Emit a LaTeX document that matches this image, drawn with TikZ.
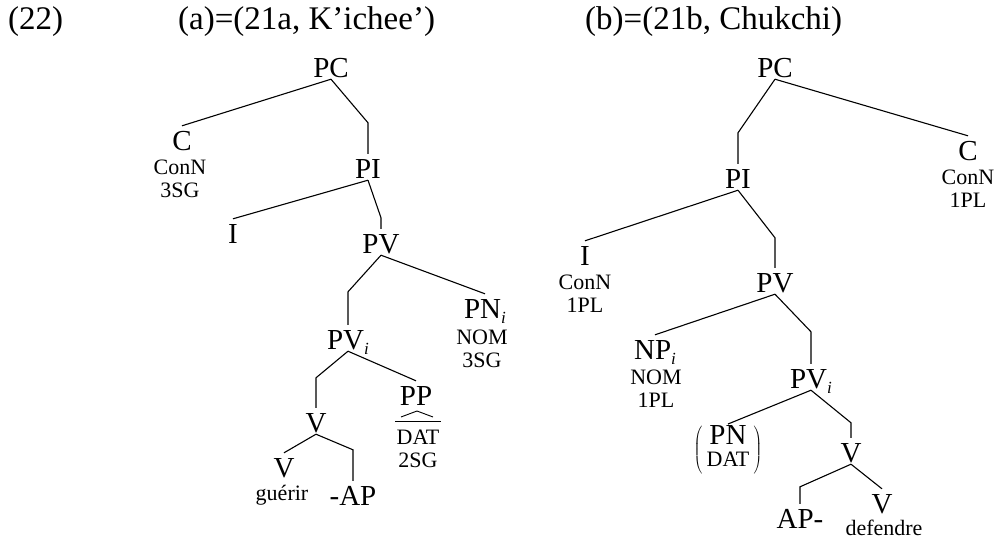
\documentclass[tikz,border=0pt]{standalone}
\usepackage{fontspec}
\setmainfont{Liberation Serif}
\usetikzlibrary{positioning}

\newcommand\catsize{\fontsize{29}{29}\selectfont}
\newcommand\featsize{\fontsize{22}{23}\selectfont}
\newcommand\headsize{\fontsize{33}{33}\selectfont}
% small italic index after a category label
\newcommand\idx{\raisebox{-0.2em}{\fontsize{17}{17}\selectfont\itshape i}}

\begin{document}
\begin{tikzpicture}[x=1pt,y=-1pt,
    cat/.style={font=\catsize,inner xsep=0pt,inner ysep=2pt,text height=22pt,text depth=0pt,anchor=base},
    feat/.style={font=\featsize,align=center,inner sep=0pt,anchor=north},
    word/.style={font=\featsize,inner sep=0pt,anchor=base},
    head/.style={font=\headsize,inner sep=0pt,anchor=base west},
    branch/.style={line width=1.1pt}]
  \useasboundingbox (0,0) rectangle (1001,539);

  % headings
  \node[head] (ex) at (8,29) {(22)};
  \node[head] (hdA) at (178,29) {(a)=(21a, K’ichee’)};
  \node[head] (hdB) at (585,29) {(b)=(21b, Chukchi)};

  % tree (a)
  \node[cat] (pcA) at (331,77) {PC};
  \node[cat] (cA) at (182,150) {C};
  \node[feat] (cAf) at (180,160) {ConN\\3SG};
  \node[cat] (piA) at (368,178) {PI};
  \node[cat] (iA) at (233,243) {I};
  \node[cat] (pvA) at (381,253) {PV};
  \node[cat] (pnA) at (485,318) {PN\idx};
  \node[feat] (pnAf) at (482,330) {NOM\\3SG};
  \node[cat] (pviA) at (348,349) {PV\idx};
  \node[cat] (vA) at (316,432) {V};
  \node[cat] (ppA) at (416,405) {PP};
  \node[feat] (ppAf) at (418,430) {DAT\\2SG};
  \node[cat] (vvA) at (284,477) {V};
  \node[word] (guerir) at (282,500) {guérir};
  \node[cat] (apA) at (353,505) {-AP};

  \draw[branch] (pcA.south) -- (cA.north);
  \draw[branch] (pcA.south) -- ([yshift=31pt]piA.north) -- (piA.north);
  \draw[branch] (piA.south) -- (iA.north);
  \draw[branch] (piA.south) -- ([yshift=11pt]pvA.north) -- (pvA.north);
  \draw[branch] (pvA.south) -- ([yshift=33pt]pviA.north) -- (pviA.north);
  \draw[branch] (pvA.south) -- (pnA.north);
  \draw[branch] (pviA.south) -- ([yshift=30pt]vA.north) -- (vA.north);
  \draw[branch] (pviA.south) -- (ppA.north);
  \draw[branch] (vA.south) -- (vvA.north);
  \draw[branch] (vA.south) -- ([yshift=31pt]apA.north) -- (apA.north);
  % roof and bar over the PP features
  \draw[line width=0.9pt] ([xshift=-17pt,yshift=13pt]ppAf.north) -- ([xshift=-1pt,yshift=19pt]ppAf.north) -- ([xshift=15pt,yshift=13pt]ppAf.north);
  \draw[line width=0.9pt] ([xshift=-1pt,yshift=9pt]ppAf.north west) -- ([xshift=1pt,yshift=9pt]ppAf.north east);

  % tree (b)
  \node[cat] (pcB) at (775,77) {PC};
  \node[cat] (piB) at (738,188) {PI};
  \node[cat] (cB) at (968,160) {C};
  \node[feat] (cBf) at (968,170) {ConN\\1PL};
  \node[cat] (iB) at (585,265) {I};
  \node[feat] (iBf) at (585,275) {ConN\\1PL};
  \node[cat] (pvB) at (775,292) {PV};
  \node[cat] (npB) at (655,359) {NP\idx};
  \node[feat] (npBf) at (656,370) {NOM\\1PL};
  \node[cat] (pviB) at (811,388) {PV\idx};
  \node[anchor=north,inner sep=0pt,font=\catsize] (pnB) at (728,424)
    {$\left(\,\begin{tabular}{@{}c@{}}PN\\[-7pt]\featsize DAT\end{tabular}\,\right)$};
  \node[cat] (vB) at (851,462) {V};
  \node[cat] (apB) at (800,528) {AP-};
  \node[cat] (vvB) at (882,513) {V};
  \node[word] (defendre) at (884,535) {defendre};

  \draw[branch] (pcB.south) -- ([yshift=31pt]piB.north) -- (piB.north);
  \draw[branch] (pcB.south) -- (cB.north);
  \draw[branch] (piB.south) -- (iB.north);
  \draw[branch] (piB.south) -- ([yshift=30pt]pvB.north) -- (pvB.north);
  \draw[branch] (pvB.south) -- (npB.north);
  \draw[branch] (pvB.south) -- ([yshift=32pt]pviB.north) -- (pviB.north);
  \draw[branch] (pviB.south) -- (pnB.north);
  \draw[branch] (pviB.south) -- ([yshift=15pt]vB.north) -- (vB.north);
  \draw[branch] (vB.south) -- ([yshift=17pt]apB.north) -- (apB.north);
  \draw[branch] (vB.south) -- (vvB.north);
\end{tikzpicture}
\end{document}
